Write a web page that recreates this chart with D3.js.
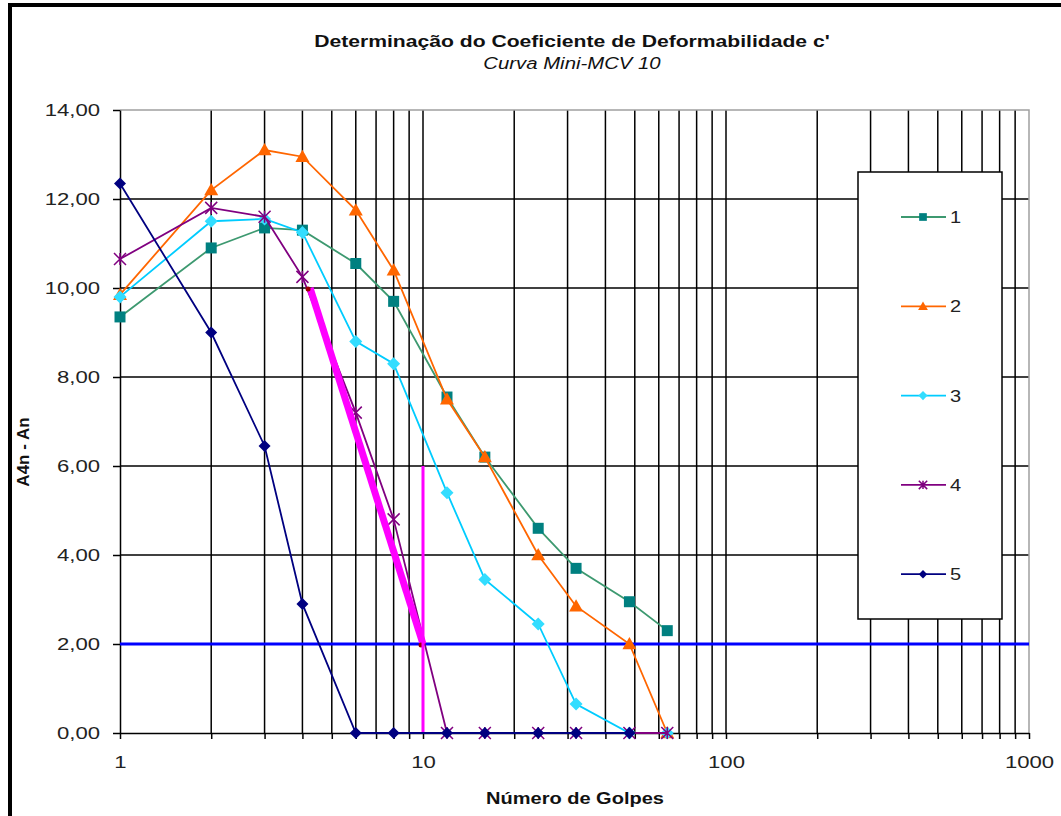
<!DOCTYPE html>
<html><head><meta charset="utf-8">
<script src="https://cdn.jsdelivr.net/npm/d3@7"></script>
<style>body{margin:0;background:#fff}svg{display:block;font-family:"Liberation Sans",Arial,sans-serif}</style>
</head><body><svg id="c" width="1061" height="816"></svg>
<script>
const golpes = [1, 2, 3, 4, 6, 8, 12, 16, 24, 32, 48, 64];
const s1 = [9.35, 10.9, 11.35, 11.3, 10.55, 9.7, 7.55, 6.2, 4.6, 3.7, 2.95, 2.3];
const s2 = [9.85, 12.2, 13.1, 12.95, 11.75, 10.4, 7.5, 6.2, 4.0, 2.85, 2.0, 0];
const s3 = [9.8, 11.5, 11.55, 11.25, 8.8, 8.3, 5.4, 3.45, 2.45, 0.65, 0, 0];
const s4 = [10.65, 11.8, 11.6, 10.25, 7.2, 4.8, 0, 0, 0, 0, 0, 0];
const s5 = [12.35, 9.0, 6.45, 2.9, 0, 0, 0, 0, 0, 0, 0];
const seriesNames = ["1", "2", "3", "4", "5"];
const yTicks = [0, 2, 4, 6, 8, 10, 12, 14];
const xLabelTicks = [1, 10, 100, 1000];
const fitLine = [[4.24, 10.0], [10, 2.0]];
const mcvLine = [[10, 6.0], [10, 0]];
const refY = 2.0;

const svg = d3.select("#c");
const x = d3.scaleLog().domain([1, 1000]).range([120, 1029]);
const y = d3.scaleLinear().domain([0, 14]).range([733, 110]);

function stretch(sel, k) {
  sel.each(function () {
    const w = this.getComputedTextLength();
    if (w > 0) { this.setAttribute("textLength", w * k); this.setAttribute("lengthAdjust", "spacingAndGlyphs"); }
  });
}

svg.append("path").attr("d", "M10,816 V5 H1061").attr("fill", "none").attr("stroke", "#000").attr("stroke-width", 4);

svg.append("text").attr("x", 572).attr("y", 47).attr("text-anchor", "middle").attr("font-weight", "bold").attr("font-size", 16).attr("fill", "#111")
  .text("Determinação do Coeficiente de Deformabilidade c'").call(stretch, 1.32);
svg.append("text").attr("x", 572).attr("y", 69).attr("text-anchor", "middle").attr("font-style", "italic").attr("font-size", 16).attr("fill", "#111")
  .text("Curva Mini-MCV 10").call(stretch, 1.27);

const xAll = [];
for (let d = 1; d <= 100; d *= 10) for (let k = 1; k <= 9; k++) xAll.push(d * k);
xAll.push(1000);
const g = svg.append("g");
g.selectAll("line.vx").data(xAll.filter(v => v > 1 && v < 1000)).join("line")
  .attr("x1", d => x(d)).attr("x2", d => x(d)).attr("y1", y(14)).attr("y2", y(0))
  .attr("stroke", "#000").attr("stroke-width", 1.5);
g.selectAll("line.hy").data(yTicks.filter(v => v > 0 && v < 14)).join("line")
  .attr("x1", x(1)).attr("x2", x(1000)).attr("y1", d => y(d)).attr("y2", d => y(d))
  .attr("stroke", "#000").attr("stroke-width", 1.5);
svg.append("path").attr("d", `M${x(1)},${y(14)} H${x(1000)} V${y(0)}`).attr("fill", "none").attr("stroke", "#a0a0a0").attr("stroke-width", 1.5);

const loc = d3.formatLocale({decimal: ",", thousands: ".", grouping: [3], currency: ["", ""]});
const f2 = loc.format(".2f");
const ya = svg.append("g").attr("transform", `translate(${x(1)},0)`)
  .call(d3.axisLeft(y).tickValues(yTicks).tickFormat(f2).tickSize(7).tickSizeOuter(0).tickPadding(13));
ya.select(".domain").attr("stroke-width", 1.5);
ya.selectAll(".tick line").attr("stroke-width", 1.5);
ya.selectAll("text").attr("font-size", 17).attr("fill", "#222").call(stretch, 1.3);
const xa = svg.append("g").attr("transform", `translate(0,${y(0)})`)
  .call(d3.axisBottom(x).tickValues(xAll).tickFormat(d => xLabelTicks.includes(d) ? String(d) : "").tickSize(6).tickSizeOuter(0).tickPadding(17));
xa.select(".domain").attr("stroke-width", 1.5);
xa.selectAll(".tick line").attr("stroke-width", 1.5);
xa.selectAll("text").attr("font-size", 17).attr("fill", "#222").call(stretch, 1.3);

svg.append("text").attr("transform", `translate(29,452) rotate(-90)`).attr("text-anchor", "middle")
  .attr("font-weight", "bold").attr("font-size", 17).attr("fill", "#111").text("A4n - An");
svg.append("text").attr("x", 575).attr("y", 804).attr("text-anchor", "middle")
  .attr("font-weight", "bold").attr("font-size", 16).attr("fill", "#111").text("Número de Golpes").call(stretch, 1.25);

svg.append("line").attr("x1", x(1)).attr("x2", x(1000)).attr("y1", y(refY)).attr("y2", y(refY))
  .attr("stroke", "#0000ff").attr("stroke-width", 3);

const line = d3.line().x(d => x(d[0])).y(d => y(d[1]));

const series = [
  {vals: s1, line: "#3d9970", mark: "#008080", shape: "square", r: 5.5},
  {vals: s2, line: "#ff6600", mark: "#ff6600", shape: "triangle", r: 7},
  {vals: s3, line: "#00ccff", mark: "#33ddff", shape: "diamond", r: 6.5},
  {vals: s4, line: "#800080", mark: "#800080", shape: "star", r: 6},
  {vals: s5, line: "#000080", mark: "#000080", shape: "diamond", r: 6},
];

function drawMarker(sel, s, scale) {
  const r = s.r * scale;
  let d;
  if (s.shape === "star") {
    sel.append("path").attr("d", `M${-r},${-r}L${r},${r}M${-r},${r}L${r},${-r}M0,${-r}L0,${r}`)
      .attr("stroke", s.mark).attr("stroke-width", 1.5).attr("fill", "none");
    return;
  }
  if (s.shape === "square") d = `M${-r},${-r}H${r}V${r}H${-r}Z`;
  else if (s.shape === "triangle") d = `M0,${-r}L${r},${r * 0.75}L${-r},${r * 0.75}Z`;
  else d = `M0,${-r}L${r},0L0,${r}L${-r},0Z`;
  sel.append("path").attr("d", d).attr("fill", s.mark);
}

series.forEach((s, i) => {
  const pts = s.vals.map((v, j) => [golpes[j], v]);
  svg.append("path").datum(pts).attr("d", line).attr("fill", "none").attr("stroke", s.line).attr("stroke-width", 1.8);
  pts.forEach(p => {
    const gm = svg.append("g").attr("transform", `translate(${x(p[0])},${y(p[1])})`);
    drawMarker(gm, s, 1);
  });
  if (i === 3) {
    svg.append("path").datum(fitLine).attr("d", line).attr("stroke", "#ff00ff").attr("stroke-width", 7).attr("stroke-linecap", "butt");
    fitLine.forEach(p => svg.append("circle").attr("cx", x(p[0]) - 2).attr("cy", y(p[1]) + 1).attr("r", 2.5).attr("fill", "#990000"));
    svg.append("path").datum(mcvLine).attr("d", line).attr("stroke", "#ff00ff").attr("stroke-width", 3);
  }
});

const lg = svg.append("g");
lg.append("rect").attr("x", 858).attr("y", 172).attr("width", 144).attr("height", 447)
  .attr("fill", "#fff").attr("stroke", "#000").attr("stroke-width", 1.5);
series.forEach((s, i) => {
  const yy = 217 + i * 89.3;
  lg.append("line").attr("x1", 901).attr("x2", 946).attr("y1", yy).attr("y2", yy).attr("stroke", s.line).attr("stroke-width", 1.8);
  const gm = lg.append("g").attr("transform", `translate(923,${yy})`);
  drawMarker(gm, s, 0.7);
  lg.append("text").attr("x", 950).attr("y", yy + 6).attr("font-size", 16).attr("fill", "#222").text(seriesNames[i]).call(stretch, 1.25);
});
</script></body></html>
